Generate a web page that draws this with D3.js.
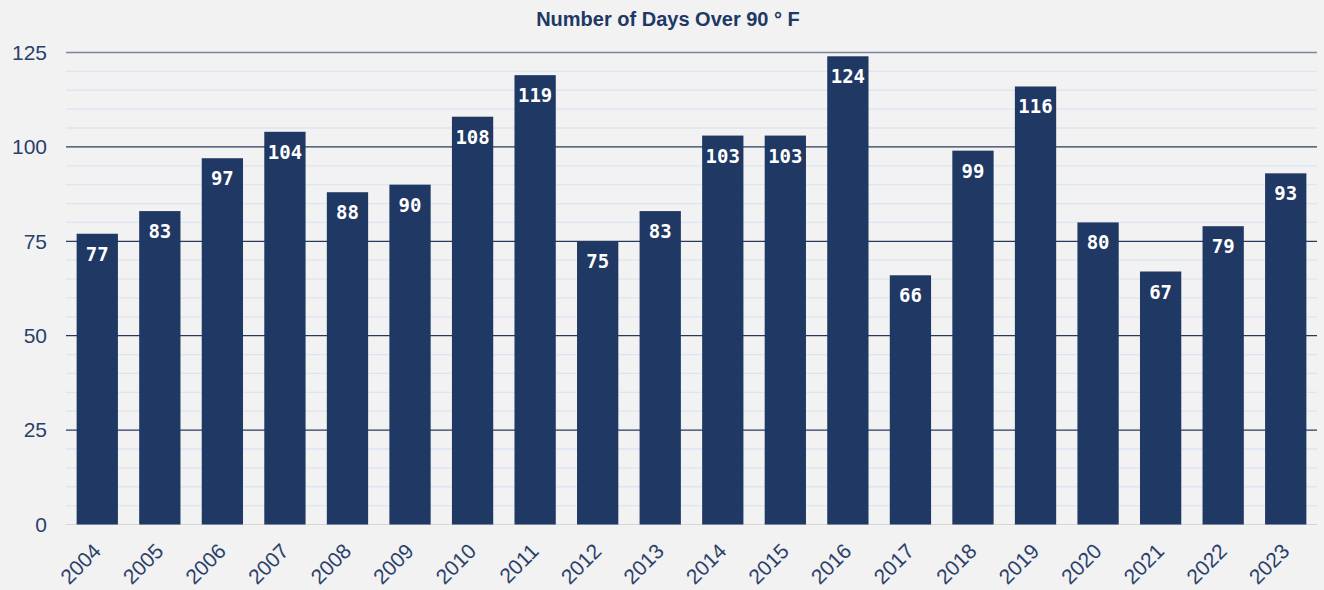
<!DOCTYPE html>
<html>
<head>
<meta charset="utf-8">
<script src="https://cdn.jsdelivr.net/npm/d3@7"></script>
<style>
	body { margin: 0; background: #f2f2f2; }
	svg { display: block; background: #f2f2f2; }
	.tick text { font-family: "Liberation Sans", Arial, sans-serif; fill: #2b3f6b; }
</style>
</head>
<body>
<svg width="1324" height="590"></svg>
<script>
// data
var years = ["2004","2005","2006","2007","2008","2009","2010","2011","2012","2013",
	"2014","2015","2016","2017","2018","2019","2020","2021","2022","2023"];
var days = [77, 83, 97, 104, 88, 90, 108, 119, 75, 83,
	103, 103, 124, 66, 99, 116, 80, 67, 79, 93];
var yTicks = [0, 25, 50, 75, 100, 125];

var svg = d3.select("svg"),
	margin = {top: 52.5, right: 7, bottom: 65.5, left: 66},
	width = +svg.attr("width") - margin.left - margin.right,
	height = +svg.attr("height") - margin.top - margin.bottom,
	g = svg.append("g").attr("transform", "translate(" + margin.left + "," + margin.top + ")");

var x = d3.scaleBand()
	.domain(years)
	.range([0, width])
	.paddingInner(0.34)
	.paddingOuter(0.17);

var y = d3.scaleLinear()
	.domain([0, 125])
	.range([height, 0]);

// minor gridlines every 5
g.append("g")
	.selectAll("line")
	.data(d3.range(5, 125, 5).filter(function (d) { return d % 25 != 0; }))
	.enter().append("line")
	.attr("x1", 0).attr("x2", width)
	.attr("y1", function (d) { return y(d); })
	.attr("y2", function (d) { return y(d); })
	.attr("stroke", "#dce5f3")
	.attr("stroke-width", 1.3);

// major gridlines
g.append("g")
	.selectAll("line")
	.data(yTicks)
	.enter().append("line")
	.attr("x1", 0).attr("x2", width)
	.attr("y1", function (d) { return y(d); })
	.attr("y2", function (d) { return y(d); })
	.attr("stroke", function (d) {
		if (d == 0) return "#d6d6d6";
		if (d == 125) return "#7a86a0";
		return "#2b3a5c";
	})
	.attr("stroke-width", function (d) { return d == 125 ? 1.6 : 1.2; });

// bars
g.selectAll(".bar")
	.data(days)
	.enter().append("rect")
	.attr("class", "bar")
	.attr("x", function (d, i) { return x(years[i]); })
	.attr("y", function (d) { return y(d); })
	.attr("width", x.bandwidth())
	.attr("height", function (d) { return height - y(d); })
	.attr("fill", "#203864");

// value labels
g.selectAll(".lbl")
	.data(days)
	.enter().append("text")
	.attr("class", "lbl")
	.attr("x", function (d, i) { return x(years[i]) + x.bandwidth() / 2; })
	.attr("y", function (d) { return y(d) + 27; })
	.attr("text-anchor", "middle")
	.attr("fill", "#ffffff")
	.style("font-family", "'DejaVu Sans Mono', monospace")
	.style("font-weight", "bold")
	.style("font-size", "19px")
	.text(function (d) { return d; });

// y axis
var yAxis = g.append("g")
	.call(d3.axisLeft(y).tickValues(yTicks).tickSize(0).tickPadding(19));
yAxis.select(".domain").remove();
yAxis.selectAll("text").style("font-size", "21px");

// x axis
var xAxis = g.append("g")
	.attr("transform", "translate(0," + height + ")")
	.call(d3.axisBottom(x).tickSize(0).tickPadding(0));
xAxis.select(".domain").remove();
xAxis.selectAll("text")
	.style("font-size", "21px")
	.attr("text-anchor", "end")
	.attr("dy", 0)
	.attr("transform", "translate(5,28) rotate(-45)");

// title
svg.append("text")
	.attr("x", 668)
	.attr("y", 26)
	.attr("text-anchor", "middle")
	.attr("fill", "#203864")
	.style("font-family", "'Liberation Sans Narrow', 'Liberation Sans', sans-serif")
	.style("font-weight", "bold")
	.style("font-size", "20px")
	.text("Number of Days Over 90 ° F");
</script>
</body>
</html>
